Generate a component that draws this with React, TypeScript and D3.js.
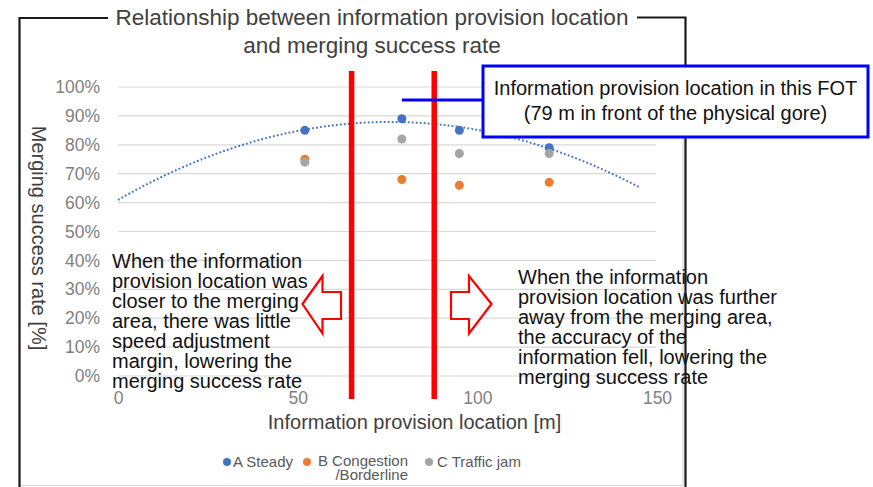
import React, { useEffect, useRef } from 'react';
import { scaleLinear, axisLeft, axisBottom, select, line, range } from 'd3';

// distance of the information provision point [m]
const DISTANCES = [52, 79, 95, 120];
const STEADY = [85, 89, 85, 79];
const CONGESTION = [75, 68, 66, 67];
const TRAFFIC_JAM = [74, 82, 77, 77];

const SERIES = [
  { name: 'A Steady', values: STEADY, color: '#4472C4' },
  { name: 'B Congestion', values: CONGESTION, color: '#ED7D31' },
  { name: 'C Traffic jam', values: TRAFFIC_JAM, color: '#A5A5A5' },
];

const X_TICKS = [0, 50, 100, 150];
const Y_TICKS = [0, 10, 20, 30, 40, 50, 60, 70, 80, 90, 100];
const BOUNDARY_LINES = [65, 88];
const FOT_LOCATION = 79;
const TREND_RANGE = [0, 145];

const TITLE = ['Relationship between information provision location', 'and merging success rate'];
const BOX_TEXT = ['Information provision location in this FOT', '(79 m in front of the physical gore)'];
const LEFT_NOTE = [
  'When the information',
  'provision location was',
  'closer to the merging',
  'area, there was little',
  'speed adjustment',
  'margin, lowering the',
  'merging success rate',
];
const RIGHT_NOTE = [
  'When the information',
  'provision location was further',
  'away from the merging area,',
  'the accuracy of the',
  'information fell, lowering the',
  'merging success rate',
];

const FONT = '"Liberation Sans", Arial, sans-serif';
const W = 873;
const H = 487;

// least squares, order 2 (what excel's polynomial trendline does)
function fitQuadratic(xs: number[], ys: number[]) {
  const s = (f: (x: number, y: number) => number) => xs.reduce((acc, x, i) => acc + f(x, ys[i]), 0);
  const n = xs.length;
  const sx = s(x => x), sx2 = s(x => x * x), sx3 = s(x => x ** 3), sx4 = s(x => x ** 4);
  const sy = s((x, y) => y), sxy = s((x, y) => x * y), sx2y = s((x, y) => x * x * y);
  const m = [
    [n, sx, sx2, sy],
    [sx, sx2, sx3, sxy],
    [sx2, sx3, sx4, sx2y],
  ];
  for (let i = 0; i < 3; i++) {
    for (let k = i + 1; k < 3; k++) {
      const f = m[k][i] / m[i][i];
      for (let j = i; j < 4; j++) m[k][j] -= f * m[i][j];
    }
  }
  const c = [0, 0, 0];
  for (let i = 2; i >= 0; i--) {
    let v = m[i][3];
    for (let j = i + 1; j < 3; j++) v -= m[i][j] * c[j];
    c[i] = v / m[i][i];
  }
  return (x: number) => c[0] + c[1] * x + c[2] * x * x;
}

export default function App() {
  const yAxisRef = useRef<SVGGElement>(null);
  const xAxisRef = useRef<SVGGElement>(null);

  const x = scaleLinear().domain([0, 150]).range([118, 657]);
  const y = scaleLinear().domain([0, 100]).range([376, 87]);

  useEffect(() => {
    const ya = select(yAxisRef.current!);
    ya.call(axisLeft(y).tickValues(Y_TICKS).tickFormat(d => `${d}%`).tickSize(0).tickPadding(18));
    ya.select('.domain').remove();
    ya.selectAll('text').attr('fill', '#7F7F7F').style('font-size', '17.5px').style('font-family', FONT);

    const xa = select(xAxisRef.current!);
    xa.call(axisBottom(x).tickValues(X_TICKS).tickSize(0).tickPadding(16));
    xa.select('.domain').remove();
    xa.selectAll('text').attr('fill', '#7F7F7F').style('font-size', '17.5px').style('font-family', FONT);
  }, []);

  const trend = fitQuadratic(DISTANCES, STEADY);
  const trendPath = line<number>()
    .x(d => x(d))
    .y(d => y(trend(d)))(range(TREND_RANGE[0], TREND_RANGE[1] + 0.5, 1));

  const leftArrow = 'M302.5,304 L322.5,276 L322.5,292 L341,292 L341,319 L322.5,319 L322.5,333.5 Z';
  const rightArrow = 'M491.5,304 L469,276 L469,292 L451,292 L451,319 L469,319 L469,333.5 Z';

  return (
    <svg width={W} height={H} style={{ position: 'absolute', left: 0, top: 0, background: '#fff' }}
      fontFamily={FONT}>
      <rect width={W} height={H} fill="#fff" />

      {/* excel chart area border */}
      <line x1={20} x2={683} y1={485.5} y2={485.5} stroke="#D9D9D9" strokeWidth={1.2} />
      <line x1={683} x2={683} y1={138} y2={485.5} stroke="#D9D9D9" strokeWidth={1.2} />

      {Y_TICKS.map(t => (
        <line key={t} x1={x(0)} x2={656} y1={y(t)} y2={y(t)} stroke="#D9D9D9" strokeWidth={1.2} />
      ))}
      <g ref={yAxisRef} transform={`translate(${x(0)},0)`} />
      <g ref={xAxisRef} transform={`translate(0,${y(0)})`} />

      <text x={414.5} y={422} dy="0.35em" textAnchor="middle" fontSize={20} fill="#404040">
        Information provision location [m]
      </text>
      <text transform="translate(39,238) rotate(90)" dy="0.35em" textAnchor="middle" fontSize={20} fill="#404040">
        Merging success rate [%]
      </text>

      <path d={trendPath || ''} fill="none" stroke="#4472C4" strokeWidth={2} strokeDasharray="1.8,2.2" />

      {SERIES.map(s => (
        <g key={s.name}>
          {s.values.map((v, i) => (
            <circle key={i} cx={x(DISTANCES[i])} cy={y(v)} r={4.5} fill={s.color} />
          ))}
        </g>
      ))}

      {LEFT_NOTE.map((t, i) => (
        <text key={i} x={112} y={261 + i * 20} dy="0.35em" fontSize={20} fill="#111">{t}</text>
      ))}
      {RIGHT_NOTE.map((t, i) => (
        <text key={i} x={518} y={277 + i * 20} dy="0.35em" fontSize={20} fill="#111">{t}</text>
      ))}

      <path d={leftArrow} fill="#fff" stroke="#FF0000" strokeWidth={2.2} strokeLinejoin="miter" />
      <path d={rightArrow} fill="#fff" stroke="#FF0000" strokeWidth={2.2} strokeLinejoin="miter" />

      {BOUNDARY_LINES.map(b => (
        <line key={b} x1={x(b)} x2={x(b)} y1={71} y2={399} stroke="#FF0000" strokeWidth={5.5} />
      ))}

      <line x1={x(FOT_LOCATION)} x2={484} y1={100} y2={100} stroke="#0000FF" strokeWidth={3} />

      {/* black frame around the figure */}
      <path d="M108,18 L19.5,18 L19.5,487" fill="none" stroke="#1a1a1a" strokeWidth={2.2} />
      <path d="M637,17.5 L685.5,17.5 L685.5,487" fill="none" stroke="#1a1a1a" strokeWidth={2.2} />

      <rect x={483} y={66} width={385} height={71} fill="#fff" stroke="#0000FF" strokeWidth={3} />
      {BOX_TEXT.map((t, i) => (
        <text key={i} x={675.5} y={88 + i * 25} dy="0.35em" textAnchor="middle" fontSize={20} fill="#111">{t}</text>
      ))}

      {TITLE.map((t, i) => (
        <text key={i} x={372} y={17 + i * 28} dy="0.35em" textAnchor="middle" fontSize={22.5} fill="#404040">{t}</text>
      ))}

      {/* legend */}
      <g fontSize={15} fill="#595959">
        <circle cx={227} cy={462} r={4} fill={SERIES[0].color} />
        <text x={233} y={462} dy="0.35em">{SERIES[0].name}</text>
        <circle cx={307} cy={462} r={4} fill={SERIES[1].color} />
        <text x={408} y={461} dy="0.35em" textAnchor="end">{SERIES[1].name}</text>
        <text x={408} y={475} dy="0.35em" textAnchor="end">/Borderline</text>
        <circle cx={429} cy={462} r={4} fill={SERIES[2].color} />
        <text x={437} y={462} dy="0.35em">{SERIES[2].name}</text>
      </g>
    </svg>
  );
}
